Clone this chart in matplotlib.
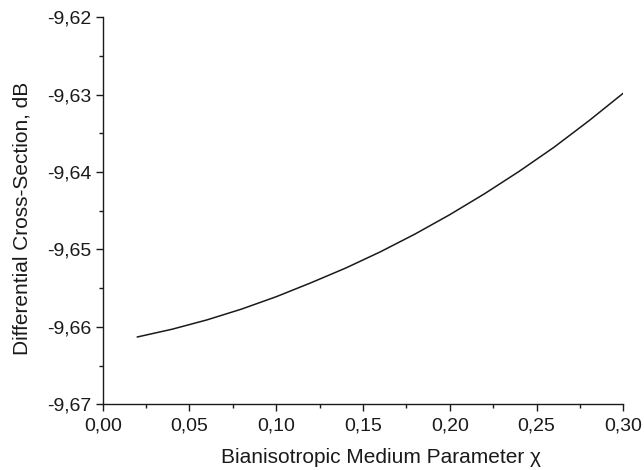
import numpy as np
import matplotlib
matplotlib.use('Agg')
import matplotlib.pyplot as plt
from matplotlib.ticker import MultipleLocator, FuncFormatter

# values
chi = [0.02, 0.04, 0.06, 0.08, 0.10, 0.12, 0.14, 0.16,
       0.18, 0.20, 0.22, 0.24, 0.26, 0.28, 0.30]
dcs = [-9.6613, -9.6603, -9.6591, -9.6577, -9.6561, -9.6543, -9.6524, -9.6503,
       -9.6480, -9.6455, -9.6428, -9.6399, -9.6368, -9.6334, -9.6298]

plt.rcParams['font.family'] = ['Liberation Sans', 'DejaVu Sans']

fig = plt.figure(figsize=(6.44, 4.70), dpi=100)
ax = fig.add_axes([0.1595, 0.1398, 0.8084, 0.8234])

ax.plot(chi, dcs, color='#1a1a1a', linewidth=1.1)

ax.set_xlim(0.0, 0.30)
ax.set_ylim(-9.67, -9.62)
ax.xaxis.set_major_locator(MultipleLocator(0.05))
ax.xaxis.set_minor_locator(MultipleLocator(0.025))
ax.yaxis.set_major_locator(MultipleLocator(0.01))
ax.yaxis.set_minor_locator(MultipleLocator(0.005))
comma = FuncFormatter(lambda v, p: f'{v:.2f}'.replace('.', ','))
ax.xaxis.set_major_formatter(comma)
ax.yaxis.set_major_formatter(comma)

for s in ['top', 'right']:
    ax.spines[s].set_visible(False)
for s in ['left', 'bottom']:
    ax.spines[s].set_linewidth(1.0)
    ax.spines[s].set_color('#1a1a1a')

ax.tick_params(which='major', direction='out', length=5, width=1.0,
               colors='#1a1a1a', labelsize=14, pad=3)
ax.tick_params(axis='x', which='major', pad=4.5)
ax.tick_params(which='minor', direction='out', length=3, width=1.0, colors='#1a1a1a')

ax.set_xlabel('Bianisotropic Medium Parameter χ', fontsize=15, color='#1a1a1a')
ax.set_ylabel('Differential Cross-Section, dB', fontsize=15, color='#1a1a1a')
ax.xaxis.set_label_coords(0.534, -0.113)
ax.yaxis.set_label_coords(-0.136, 0.48)

fig.savefig('out.png', dpi=100)
